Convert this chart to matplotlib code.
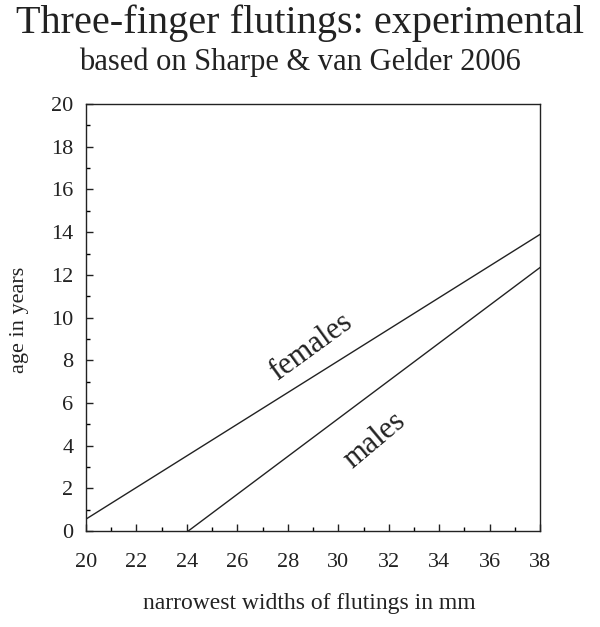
import matplotlib
matplotlib.use("Agg")
import matplotlib.pyplot as plt
from matplotlib.ticker import MultipleLocator

# --- data ---
females_x = [20, 38]
females_y = [0.56, 13.9]
males_x = [24.05, 38]
males_y = [0.0, 12.35]

x_ticks = list(range(20, 39, 2))
y_ticks = list(range(0, 21, 2))

plt.rcParams['font.family'] = ['Liberation Serif', 'DejaVu Serif']

fig = plt.figure(figsize=(6, 6.27), dpi=100)
ax = fig.add_axes([0.1433, 0.153, 0.757, 0.681])

ax.plot(females_x, females_y, color='#222222', lw=1.0)
ax.plot(males_x, males_y, color='#222222', lw=1.0)

ax.set_xlim(20, 38)
ax.set_ylim(0, 20)
ax.set_xticks(x_ticks)
ax.set_yticks(y_ticks)
ax.xaxis.set_minor_locator(MultipleLocator(1))
ax.yaxis.set_minor_locator(MultipleLocator(1))
ax.tick_params(which='major', direction='in', length=5, width=1, labelsize=16, colors='#222222')
ax.tick_params(which='minor', direction='in', length=3, width=1)
ax.tick_params(axis='x', pad=16)
ax.tick_params(axis='y', pad=9)
for s in ax.spines.values():
    s.set_linewidth(1.0)
    s.set_color('#222222')

ax.text(28.9, 8.6, 'females', rotation=36, fontsize=22, ha='center', va='center', color='#222222')
ax.text(31.45, 4.25, 'males', rotation=40, fontsize=22, ha='center', va='center', color='#222222')

fig.text(0.5, 0.963, 'Three-finger flutings: experimental', fontsize=29, ha='center', va='center', color='#222222')
fig.text(0.5, 0.9, 'based on Sharpe & van Gelder 2006', fontsize=22, ha='center', va='center', color='#222222')
fig.text(0.515, 0.037, 'narrowest widths of flutings in mm', fontsize=17, ha='center', va='center', color='#222222')
fig.text(0.033, 0.49, 'age in years', fontsize=16, rotation=90, ha='center', va='center', color='#222222')

fig.savefig('out.png', dpi=100, facecolor='white')
